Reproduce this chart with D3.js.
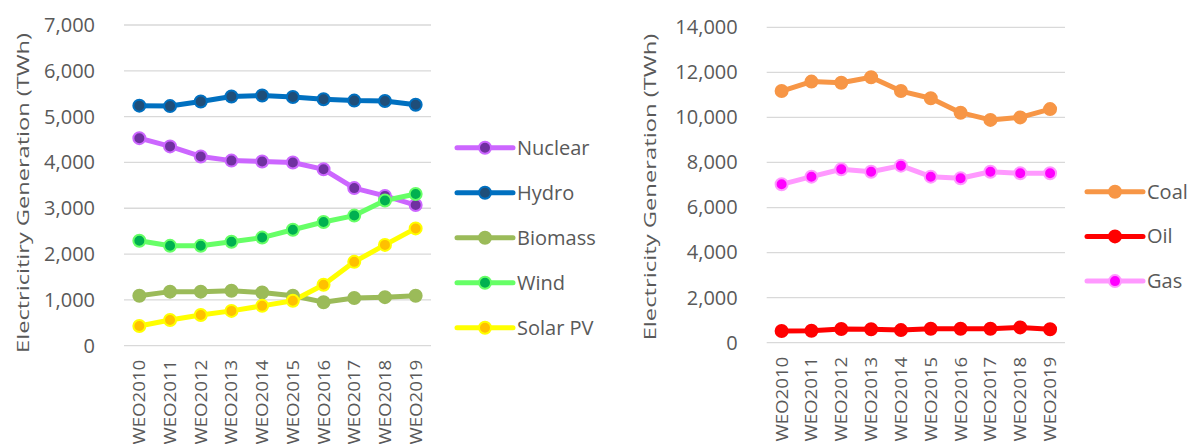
<!DOCTYPE html>
<html><head><meta charset="utf-8">
<script src="https://cdn.jsdelivr.net/npm/d3@7"></script>
<style>
body{margin:0;background:#fff;}
svg text{font-family:"Open Sans",sans-serif;fill:#595959;}
</style></head>
<body><svg id="c" width="1189" height="444"></svg>
<script>
const categories = ["WEO2010","WEO2011","WEO2012","WEO2013","WEO2014","WEO2015","WEO2016","WEO2017","WEO2018","WEO2019"];
const nuclear = [4530,4350,4130,4040,4020,4000,3850,3440,3270,3070];
const hydro   = [5240,5230,5330,5440,5460,5430,5380,5350,5340,5260];
const biomass = [1090,1180,1180,1200,1160,1090,950,1040,1060,1090];
const wind    = [2290,2180,2180,2270,2360,2530,2700,2840,3170,3310];
const solarPV = [430,560,670,760,870,980,1330,1830,2200,2560];
const coal = [11170,11590,11540,11780,11170,10850,10210,9890,10000,10370];
const oil  = [520,530,610,600,560,620,620,620,680,600];
const gas  = [7030,7370,7700,7590,7860,7370,7300,7590,7520,7520];
const leftTicks = [0,1000,2000,3000,4000,5000,6000,7000];
const rightTicks = [0,2000,4000,6000,8000,10000,12000,14000];

const leftSeries = [
  {name:"Nuclear", values:nuclear, line:"#CC66FF", fill:"#7030A0"},
  {name:"Hydro", values:hydro, line:"#0070C0", fill:"#1F4E79"},
  {name:"Biomass", values:biomass, line:"#9BBB59", fill:"#9BBB59"},
  {name:"Wind", values:wind, line:"#66FF66", fill:"#00B050"},
  {name:"Solar PV", values:solarPV, line:"#FFFF00", fill:"#FFC000"}
];
const rightSeries = [
  {name:"Coal", values:coal, line:"#F79646", fill:"#F79646"},
  {name:"Oil", values:oil, line:"#FF0000", fill:"#FF0000"},
  {name:"Gas", values:gas, line:"#FF99FF", fill:"#FF00FF"}
];

const svg = d3.select("#c");
const fmt = d3.format(",");

function panel(cfg){
  const g = svg.append("g");
  const x = d3.scaleBand().domain(categories).range([cfg.x0, cfg.x1]);
  const y = d3.scaleLinear().domain([0, cfg.ymax]).range([cfg.y0, cfg.y1]);
  g.selectAll(".grid").data(cfg.ticks).join("line")
    .attr("x1", cfg.x0).attr("x2", cfg.x1)
    .attr("y1", d=>y(d)).attr("y2", d=>y(d))
    .attr("stroke","#d9d9d9").attr("stroke-width",1.3);
  const ya = g.append("g").attr("transform",`translate(${cfg.x0 - 29},0)`)
    .call(d3.axisLeft(y).tickValues(cfg.ticks).tickFormat(fmt).tickSize(0).tickPadding(0));
  ya.select(".domain").remove();
  ya.selectAll("text").style("font-size","20px").attr("fill","#595959").attr("font-family","Open Sans");
  const sx = 1.1;
  const xa = g.append("g").attr("transform",`translate(0,${cfg.y0})`)
    .call(d3.axisBottom(x).tickSize(0).tickPadding(0));
  xa.select(".domain").remove();
  xa.selectAll("text").style("font-size","17px").attr("fill","#595959").attr("font-family","Open Sans")
    .attr("transform",`rotate(-90) scale(${sx},1)`).attr("text-anchor","end")
    .attr("x",-14/sx).attr("y",0).attr("dy","0.35em");
  const t = g.append("text").attr("text-anchor","middle").attr("dy","0.35em")
    .style("font-size","17px").text(cfg.title);
  const L = t.node().getComputedTextLength();
  t.attr("transform",`translate(${cfg.titleX},${cfg.titleY}) rotate(-90) scale(${cfg.titleLen/L},1)`);
  const cx = d => x(d) + x.bandwidth()/2;
  const line = d3.line().x((d,i)=>cx(categories[i])).y(d=>y(d));
  cfg.series.forEach(s=>{
    g.append("path").attr("d", line(s.values)).attr("fill","none")
      .attr("stroke", s.line).attr("stroke-width",5).attr("stroke-linejoin","round");
  });
  cfg.series.forEach(s=>{
    g.selectAll(null).data(s.values).join("circle")
      .attr("cx",(d,i)=>cx(categories[i])).attr("cy",d=>y(d)).attr("r",6)
      .attr("fill", s.fill).attr("stroke", s.line).attr("stroke-width",2);
  });
  const lg = g.append("g");
  cfg.series.forEach((s,i)=>{
    const yy = cfg.legY + i*cfg.legStep;
    lg.append("line").attr("x1",cfg.legX).attr("x2",cfg.legX+56).attr("y1",yy).attr("y2",yy)
      .attr("stroke",s.line).attr("stroke-width",5).attr("stroke-linecap","round");
    lg.append("circle").attr("cx",cfg.legX+28).attr("cy",yy).attr("r",6)
      .attr("fill",s.fill).attr("stroke",s.line).attr("stroke-width",2);
    lg.append("text").attr("x",cfg.legX+60).attr("y",yy).attr("dy","0.35em")
      .style("font-size","20px").text(s.name);
  });
}

panel({x0:124, x1:431, y0:345.7, y1:25, ymax:7000, ticks:leftTicks, series:leftSeries,
  title:"Electricitiry Generation (TWh)", titleX:23, titleY:193, titleLen:320,
  legX:457, legY:147.7, legStep:45});
panel({x0:766.7, x1:1065, y0:342.7, y1:27.3, ymax:14000, ticks:rightTicks, series:rightSeries,
  title:"Electricity Generation (TWh)", titleX:650, titleY:187, titleLen:307,
  legX:1087, legY:191.7, legStep:44.7});
</script></body></html>
